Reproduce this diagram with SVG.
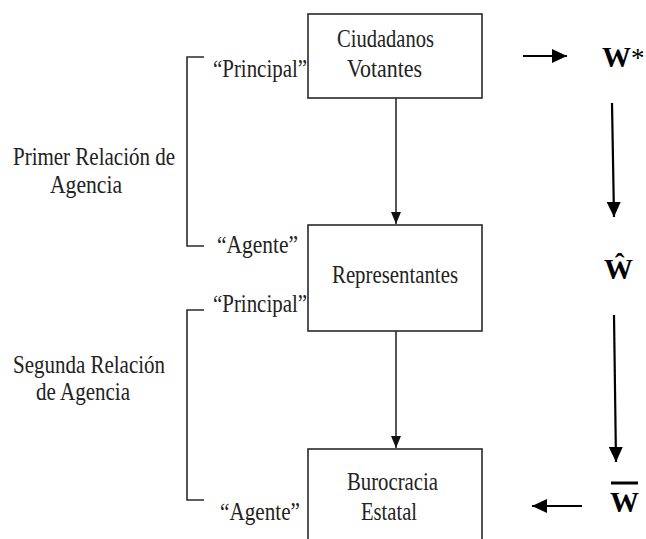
<svg xmlns="http://www.w3.org/2000/svg" width="646" height="539" viewBox="0 0 646 539">
<style>
.box{fill:#fff;stroke:#2a2a2a;stroke-width:1.6}
.ln{fill:none;stroke:#2a2a2a;stroke-width:1.6}
.bk{fill:none;stroke:#000;stroke-width:2.2}
.t{font-family:"Liberation Serif",serif;font-size:25px;fill:#222}
.w{font-family:"Liberation Serif",serif;font-size:29px;font-weight:bold;fill:#000}
</style>
<defs>
<marker id="ah" markerUnits="userSpaceOnUse" markerWidth="12" markerHeight="10" refX="12" refY="5" orient="auto">
<path d="M0,0 L12,5 L0,10 Z" fill="#111"/>
</marker>
<marker id="ahb" markerUnits="userSpaceOnUse" markerWidth="15" markerHeight="14" refX="15" refY="7" orient="auto">
<path d="M0,0 L15,7 L0,14 Z" fill="#000"/>
</marker>
</defs>
<rect width="646" height="539" fill="#fff"/>
<g id="connectors">
<line class="ln" x1="396" y1="98" x2="396" y2="224" marker-end="url(#ah)"/>
<line class="ln" x1="396" y1="331" x2="396" y2="448" marker-end="url(#ah)"/>
<line class="bk" x1="523" y1="56" x2="567" y2="56" marker-end="url(#ahb)"/>
<line class="bk" x1="612" y1="103" x2="614" y2="217" marker-end="url(#ahb)"/>
<line class="bk" x1="614" y1="315" x2="616" y2="462" marker-end="url(#ahb)"/>
<line class="bk" x1="582" y1="506" x2="532" y2="506" marker-end="url(#ahb)"/>
</g>
<g id="brackets">
<path class="ln" d="M204,57 H187 V246 H204"/>
<path class="ln" d="M204,310 H187 V500 H204"/>
</g>
<g id="ciudadanos">
<rect class="box" x="308" y="14" width="174" height="84"/>
<text class="t" x="337" y="47" textLength="97" lengthAdjust="spacingAndGlyphs">Ciudadanos</text>
<text class="t" x="347" y="77" textLength="75" lengthAdjust="spacingAndGlyphs">Votantes</text>
</g>
<g id="representantes">
<rect class="box" x="308" y="225" width="174" height="106"/>
<text class="t" x="332" y="283" textLength="126" lengthAdjust="spacingAndGlyphs">Representantes</text>
</g>
<g id="burocracia">
<rect class="box" x="308" y="449" width="174" height="100"/>
<text class="t" x="347" y="490" textLength="91" lengthAdjust="spacingAndGlyphs">Burocracia</text>
<text class="t" x="361" y="520" textLength="56" lengthAdjust="spacingAndGlyphs">Estatal</text>
</g>
<g id="labels">
<text class="t" x="213" y="77" textLength="94" lengthAdjust="spacingAndGlyphs">“Principal”</text>
<text class="t" x="217" y="253" textLength="81" lengthAdjust="spacingAndGlyphs">“Agente”</text>
<text class="t" x="213" y="312" textLength="94" lengthAdjust="spacingAndGlyphs">“Principal”</text>
<text class="t" x="220" y="520" textLength="80" lengthAdjust="spacingAndGlyphs">“Agente”</text>
<text class="t" x="13" y="165" textLength="162" lengthAdjust="spacingAndGlyphs">Primer Relación de</text>
<text class="t" x="50" y="193" textLength="72" lengthAdjust="spacingAndGlyphs">Agencia</text>
<text class="t" x="13" y="373" textLength="152" lengthAdjust="spacingAndGlyphs">Segunda Relación</text>
<text class="t" x="36" y="400" textLength="94" lengthAdjust="spacingAndGlyphs">de Agencia</text>
</g>
<g id="w-star">
<text class="w" x="602" y="67">W<tspan font-weight="normal" font-size="27">*</tspan></text>
</g>
<g id="w-hat">
<text class="w" x="604" y="279">Ŵ</text>
</g>
<g id="w-bar">
<text class="w" x="610" y="512">W</text>
<line x1="611" y1="483" x2="638" y2="483" stroke="#000" stroke-width="3"/>
</g>
</svg>
